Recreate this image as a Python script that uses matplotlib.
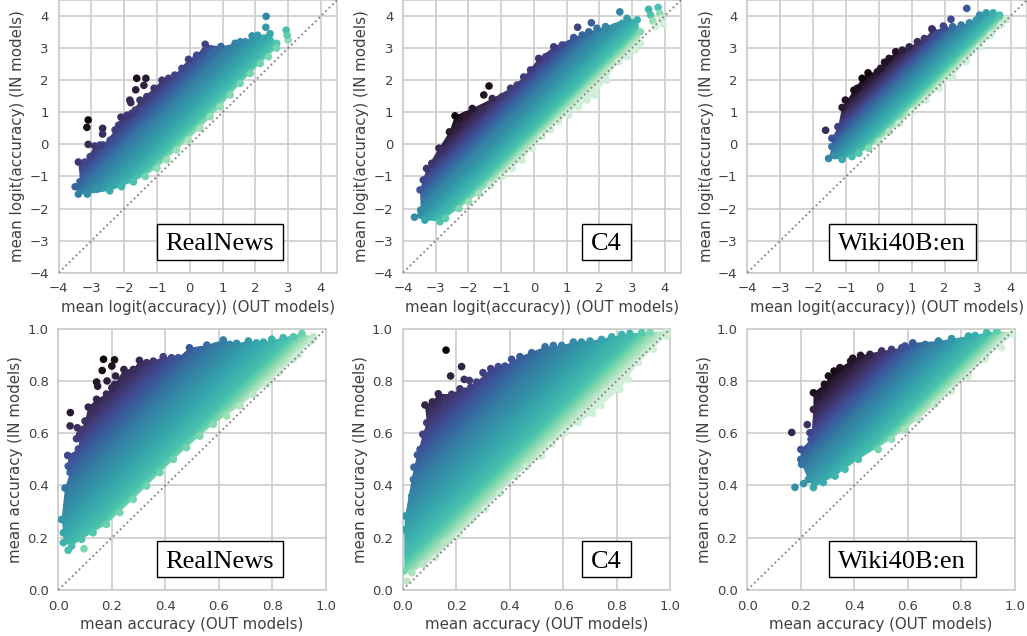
import matplotlib
matplotlib.use("Agg")
import matplotlib.pyplot as plt
from matplotlib.patches import Rectangle
import numpy as np
import seaborn as sns

# Edges of each point cloud and the stray points.
# RealNews, logit
rn_logit_up_x = [-3.4, -3.2, -2.9, -2.64, -2.28, -2.1, -1.77, -1.52, -1.09, -0.85, -0.46, -0.04, 0.21, 0.47, 0.95, 1.38, 1.69, 1.9, 2.07, 2.45, 2.65]
rn_logit_up_y = [-0.55, -0.55, -0.05, -0.02, 0.45, 0.85, 0.97, 1.38, 1.75, 2.0, 2.16, 2.65, 2.78, 3.12, 3.05, 3.15, 3.2, 3.38, 3.4, 3.45, 3.15]
rn_logit_lo_x = [2.65, 2.15, 1.54, 0.93, 0.32, -0.4, -1.0, -1.72, -2.44, -3.13, -3.4, -3.5, -3.35]
rn_logit_lo_y = [3.0, 2.52, 1.9, 1.17, 0.5, -0.18, -0.75, -1.17, -1.45, -1.55, -1.55, -1.32, -1.16]
rn_logit_ex_x = [-3.1, -3.14, -3.1, -2.66, -2.66, -1.62, -1.34, -1.65, -1.4, -1.83, -1.8, 2.33, 2.32, 2.94, 3.0, 2.97, 0.72, 0.2,
                 -3.04, -2.74, -2.43, -2.17, -1.92, -1.66, -1.31, -0.65, -0.24, 0.32, 0.62, 1.13, 1.54, 2.25,
                 -2.84, -2.08, -1.36, -0.7, -0.04, 0.62, 1.23, 1.84, 2.4]
rn_logit_ex_y = [0.76, 0.53, 0.0, 0.5, 0.32, 2.06, 2.06, 1.7, 1.84, 1.38, 1.3, 3.99, 3.65, 3.56, 3.25, 3.4, 2.89, 2.72,
                 -0.38, -0.02, 0.13, 0.6, 0.91, 1.07, 1.49, 2.06, 2.37, 2.53, 2.78, 2.94, 3.2, 3.3,
                 -1.4, -1.32, -1.0, -0.49, 0.14, 0.86, 1.54, 2.21, 2.73]

# C4, logit
c4_logit_up_x = [-3.65, -3.46, -3.48, -3.28, -2.9, -2.58, -2.41, -1.88, -1.27, -0.71, -0.31, 0.15, 0.61, 1.22, 1.68, 2.19, 2.85, 3.16]
c4_logit_up_y = [-2.27, -2.05, -1.42, -0.75, -0.12, 0.39, 0.89, 1.12, 1.43, 1.75, 2.1, 2.68, 3.04, 3.33, 3.51, 3.67, 3.93, 3.88]
c4_logit_lo_x = [3.26, 3.26, 3.1, 2.6, 1.88, 1.37, 0.76, 0.25, -0.36, -0.97, -1.68, -2.29, -2.87, -3.33]
c4_logit_lo_y = [3.51, 3.15, 2.94, 2.58, 1.54, 1.17, 0.71, 0.24, -0.49, -1.0, -1.53, -2.0, -2.41, -2.36]
c4_logit_ex_x = [2.63, 1.76, 1.34, -1.37, -1.53, 3.51, 3.57, 3.64, 3.71, 3.8, 3.85, 3.9, 3.95,
                 -3.38, -3.12, -2.82, -2.31, -2.1, -1.6, -0.97, -0.51, -0.1, 0.36, 0.87, 1.48, 1.93, 2.49, 2.7,
                 -2.7, -1.99, -1.32, -0.66, -0.05, 0.51, 1.07, 1.63, 2.24, 2.85]
c4_logit_ex_y = [4.13, 3.79, 3.65, 1.82, 1.54, 4.21, 4.03, 3.85, 3.67, 4.27, 4.08, 3.92, 3.75,
                 -1.11, -0.59, -0.18, 0.55, 0.91, 1.07, 1.49, 1.85, 2.32, 2.73, 3.1, 3.41, 3.62, 3.67, 3.77,
                 -2.31, -1.79, -1.27, -0.75, -0.12, 0.45, 0.91, 1.38, 2.0, 2.73]

# Wiki40B:en, logit
wk_logit_up_x = [-1.43, -1.24, -1.12, -0.76, -0.51, -0.33, -0.05, 0.17, 0.51, 0.92, 1.38, 1.63, 1.99, 2.24, 2.75, 3.06, 3.26, 3.67, 3.87]
wk_logit_up_y = [0.19, 0.55, 1.15, 1.69, 2.06, 2.23, 2.26, 2.56, 2.89, 3.04, 3.3, 3.56, 3.62, 3.67, 3.79, 4.03, 4.1, 4.03, 3.88]
wk_logit_lo_x = [3.72, 3.06, 2.24, 1.43, 0.61, 0.0, -0.61, -1.12, -1.53, -1.43]
wk_logit_lo_y = [3.72, 3.04, 2.11, 1.38, 0.65, 0.08, -0.28, -0.47, -0.44, -0.07]
wk_logit_ex_x = [2.67, 2.19, 1.96, 1.61, -1.62, -1.24, -1.33,
                 -1.02, -0.66, 0.05, 0.31, 0.71, 1.17, 1.73, 2.5, 2.96, 3.47,
                 -0.82, -0.31, 0.31, 1.02, 1.83, 2.65, 3.41]
wk_logit_ex_y = [4.24, 3.9, 3.69, 3.6, 0.44, 0.55, -0.35,
                 1.38, 1.75, 2.37, 2.68, 2.94, 3.2, 3.41, 3.72, 3.88, 4.1,
                 -0.38, -0.12, 0.39, 1.02, 1.75, 2.58, 3.41]

# RealNews, accuracy
rn_acc_up_x = [0.012, 0.025, 0.044, 0.035, 0.075, 0.08, 0.1, 0.112, 0.143, 0.18, 0.21, 0.245, 0.28, 0.303, 0.355, 0.392, 0.448, 0.49, 0.555, 0.616, 0.666, 0.71, 0.766, 0.84, 0.91, 0.953]
rn_acc_up_y = [0.27, 0.39, 0.45, 0.515, 0.54, 0.596, 0.647, 0.7, 0.73, 0.75, 0.787, 0.844, 0.844, 0.879, 0.876, 0.893, 0.889, 0.927, 0.9375, 0.957, 0.944, 0.953, 0.949, 0.966, 0.982, 0.969]
rn_acc_lo_x = [0.946, 0.878, 0.778, 0.679, 0.579, 0.479, 0.38, 0.28, 0.18, 0.087, 0.05, 0.019, 0.019]
rn_acc_lo_y = [0.953, 0.883, 0.787, 0.704, 0.634, 0.545, 0.449, 0.347, 0.251, 0.194, 0.168, 0.181, 0.219]
rn_acc_ex_x = [0.169, 0.21, 0.164, 0.2, 0.214, 0.143, 0.147, 0.182, 0.045, 0.044, 0.071, 0.068, 0.037, 0.096,
               0.037, 0.05, 0.093, 0.13, 0.2, 0.26, 0.33, 0.423, 0.517, 0.59, 0.64, 0.74, 0.797, 0.878,
               0.897, 0.828, 0.728, 0.629, 0.529, 0.43, 0.33, 0.23, 0.13]
rn_acc_ex_y = [0.883, 0.881, 0.84, 0.857, 0.819, 0.796, 0.78, 0.8, 0.679, 0.628, 0.621, 0.579, 0.152, 0.158,
               0.474, 0.494, 0.615, 0.69, 0.774, 0.83, 0.87, 0.889, 0.915, 0.934, 0.94, 0.946, 0.96, 0.969,
               0.9, 0.837, 0.748, 0.666, 0.589, 0.5, 0.398, 0.296, 0.219]

# C4, accuracy
c4_acc_up_x = [0.009, 0.042, 0.055, 0.075, 0.09, 0.083, 0.111, 0.133, 0.183, 0.214, 0.255, 0.276, 0.329, 0.382, 0.438, 0.532, 0.594, 0.638, 0.7, 0.781, 0.849, 0.924, 0.986]
c4_acc_up_y = [0.283, 0.47, 0.517, 0.596, 0.64, 0.708, 0.72, 0.751, 0.749, 0.77, 0.777, 0.796, 0.847, 0.857, 0.893, 0.931, 0.936, 0.949, 0.953, 0.969, 0.982, 0.987, 0.991]
c4_acc_lo_x = [0.986, 0.88, 0.812, 0.741, 0.709, 0.606, 0.519, 0.42, 0.308, 0.208, 0.121, 0.034, 0.006, 0.006]
c4_acc_lo_y = [0.972, 0.87, 0.768, 0.707, 0.676, 0.602, 0.513, 0.436, 0.309, 0.207, 0.124, 0.066, 0.073, 0.23]
c4_acc_ex_x = [0.162, 0.22, 0.179, 0.23, 0.249, 0.015,
               0.027, 0.034, 0.04, 0.065, 0.12, 0.158, 0.233, 0.3, 0.357, 0.407, 0.482, 0.563, 0.668, 0.743, 0.818, 0.893,
               0.936, 0.843, 0.656, 0.557, 0.463, 0.364, 0.258, 0.158, 0.077]
c4_acc_ex_y = [0.918, 0.855, 0.819, 0.806, 0.802, 0.034,
               0.296, 0.36, 0.423, 0.538, 0.653, 0.704, 0.761, 0.832, 0.855, 0.883, 0.908, 0.936, 0.949, 0.959, 0.978, 0.985,
               0.921, 0.806, 0.64, 0.557, 0.474, 0.372, 0.27, 0.181, 0.098]

# Wiki40B:en, accuracy
wk_acc_up_x = [0.2, 0.2, 0.238, 0.247, 0.247, 0.288, 0.324, 0.386, 0.423, 0.502, 0.577, 0.618, 0.714, 0.826, 0.894, 0.932, 0.994]
wk_acc_up_y = [0.5, 0.538, 0.577, 0.691, 0.755, 0.787, 0.838, 0.876, 0.898, 0.915, 0.927, 0.946, 0.953, 0.972, 0.985, 0.991, 0.987]
wk_acc_lo_x = [0.994, 0.888, 0.763, 0.639, 0.539, 0.415, 0.328, 0.247, 0.228, 0.203]
wk_acc_lo_y = [0.978, 0.883, 0.761, 0.653, 0.577, 0.5, 0.436, 0.392, 0.423, 0.481]
wk_acc_ex_x = [0.166, 0.224, 0.178, 0.21, 0.394,
               0.216, 0.234, 0.265, 0.303, 0.346, 0.458, 0.539, 0.589, 0.664, 0.763, 0.851,
               0.95, 0.826, 0.701, 0.589, 0.489, 0.365, 0.284]
wk_acc_ex_y = [0.603, 0.633, 0.393, 0.407, 0.887,
               0.5, 0.602, 0.742, 0.819, 0.851, 0.902, 0.921, 0.934, 0.94, 0.962, 0.974,
               0.927, 0.819, 0.711, 0.615, 0.538, 0.462, 0.411]

dataset_names = ["RealNews", "C4", "Wiki40B:en"]
logit_ticks = [-4, -3, -2, -1, 0, 1, 2, 3, 4]
acc_ticks = [0.0, 0.2, 0.4, 0.6, 0.8, 1.0]

W, H = 1027, 636
cmap = sns.color_palette("mako_r", as_cmap=True)


def pixel_axes(fig, left, right, top, bottom):
    return fig.add_axes([left / W, 1 - bottom / H, (right - left) / W, (bottom - top) / H])


def shade(diff, vmax):
    # where IN minus OUT lands on the colour map, matched by eye to the reference
    return np.interp(np.asarray(diff) / vmax, [0, 0.14, 0.49, 1], [0.03, 0.25, 0.5, 1])


def draw_panel(ax, up_x, up_y, lo_x, lo_y, ex_x, ex_y, vmax, lims, ticks, xlabel, ylabel):
    ax.set_xlim(*lims)
    ax.set_ylim(*lims)
    ax.set_xticks(ticks)
    ax.set_yticks(ticks)
    ax.grid(True, color="0.8", linewidth=1.2)
    ax.set_axisbelow(True)
    ax.tick_params(length=0, labelsize=9.5, labelcolor="0.25", pad=7)
    for spine in ax.spines.values():
        spine.set_color("0.8")
        spine.set_linewidth(1.2)
    ax.set_xlabel(xlabel, fontsize=10.8, color="0.25", labelpad=3)
    ax.set_ylabel(ylabel, fontsize=10.8, color="0.25", labelpad=3)

    # body of the cloud: colour follows IN minus OUT, clipped to the read edges
    edge_x = list(up_x) + list(lo_x)
    edge_y = list(up_y) + list(lo_y)
    poly = ax.fill(edge_x, edge_y, facecolor="none", edgecolor="none", zorder=2)[0]
    grid = np.linspace(lims[0], lims[1], 500)
    gx, gy = np.meshgrid(grid, grid)
    im = ax.imshow(shade(gy - gx, vmax), extent=(lims[0], lims[1], lims[0], lims[1]), origin="lower",
                   aspect="auto", cmap=cmap, vmin=0, vmax=1, zorder=2)
    im.set_clip_path(poly)

    pts_x = np.array(edge_x + list(ex_x))
    pts_y = np.array(edge_y + list(ex_y))
    ax.scatter(pts_x, pts_y, c=shade(pts_y - pts_x, vmax), cmap=cmap, vmin=0, vmax=1, s=30, linewidths=0, zorder=3)
    ax.plot(lims, lims, color="0.5", linestyle=":", linewidth=1.3, zorder=4)


fig = plt.figure(figsize=(W / 100, H / 100), dpi=100)

top_lefts = [58.7, 403, 747.3]
top_rights = [337.3, 681, 1027]
bot_lefts = [58.3, 402.7, 747.3]
bot_rights = [326, 670.3, 1015]
box_centres = [219.7, 606.7, 902.3]
box_widths = [126, 48.7, 146.7]

logit_sets = [
    (rn_logit_up_x, rn_logit_up_y, rn_logit_lo_x, rn_logit_lo_y, rn_logit_ex_x, rn_logit_ex_y, 3.9),
    (c4_logit_up_x, c4_logit_up_y, c4_logit_lo_x, c4_logit_lo_y, c4_logit_ex_x, c4_logit_ex_y, 3.4),
    (wk_logit_up_x, wk_logit_up_y, wk_logit_lo_x, wk_logit_lo_y, wk_logit_ex_x, wk_logit_ex_y, 2.6),
]
acc_sets = [
    (rn_acc_up_x, rn_acc_up_y, rn_acc_lo_x, rn_acc_lo_y, rn_acc_ex_x, rn_acc_ex_y, 0.72),
    (c4_acc_up_x, c4_acc_up_y, c4_acc_lo_x, c4_acc_lo_y, c4_acc_ex_x, c4_acc_ex_y, 0.76),
    (wk_acc_up_x, wk_acc_up_y, wk_acc_lo_x, wk_acc_lo_y, wk_acc_ex_x, wk_acc_ex_y, 0.54),
]

for i in range(3):
    ax = pixel_axes(fig, top_lefts[i], top_rights[i], 0, 272.7)
    draw_panel(ax, *logit_sets[i], (-4, 4.5), logit_ticks,
               "mean logit(accuracy)) (OUT models)", "mean logit(accuracy) (IN models)")
    ax = pixel_axes(fig, bot_lefts[i], bot_rights[i], 328.7, 590)
    draw_panel(ax, *acc_sets[i], (0, 1), acc_ticks,
               "mean accuracy (OUT models)", "mean accuracy (IN models)")
    for y_px in (242, 559.3):
        bw, bh = box_widths[i], 36
        fig.add_artist(Rectangle(((box_centres[i] - bw / 2) / W, 1 - (y_px + bh / 2) / H), bw / W, bh / H,
                                 transform=fig.transFigure, facecolor="white", edgecolor="black",
                                 linewidth=1, zorder=10))
        fig.text(box_centres[i] / W, 1 - y_px / H, dataset_names[i], family="Liberation Serif",
                 fontsize=19, color="black", ha="center", va="center_baseline", zorder=11)

fig.savefig("out.png", dpi=100)
